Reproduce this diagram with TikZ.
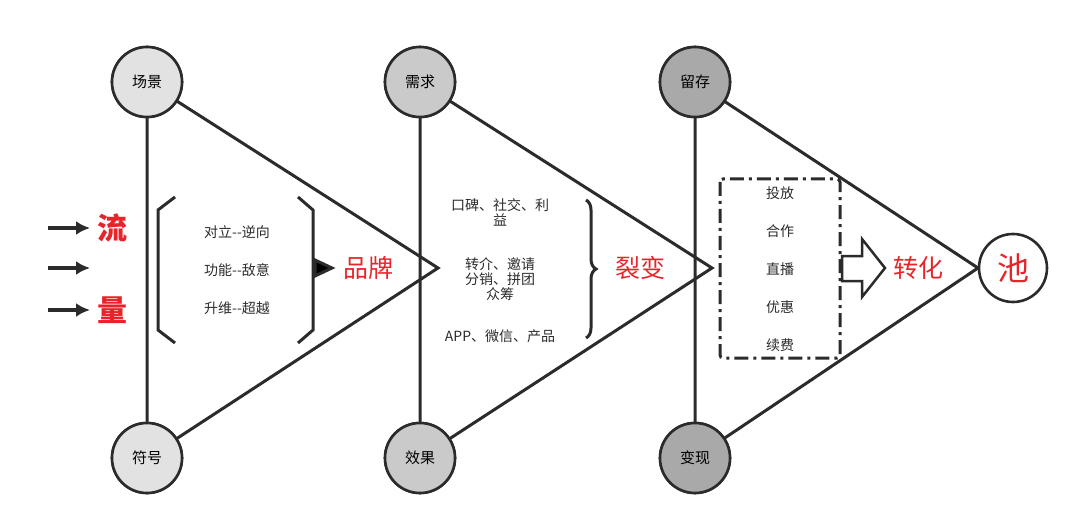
\documentclass[tikz,border=0pt]{standalone}
\usepackage{fontspec}
\setmainfont{Noto Sans CJK SC}
\usetikzlibrary{decorations.pathreplacing,arrows.meta}
\definecolor{ln}{HTML}{2B2B2B}
\definecolor{rd}{HTML}{E8242B}
\definecolor{ca}{HTML}{E2E2E2}
\definecolor{cb}{HTML}{CACACA}
\definecolor{cc}{HTML}{A9A9A9}
\begin{document}
\begin{tikzpicture}[x=1pt,y=-1pt,
  ln/.style={draw=ln,line width=3pt},
  circ/.style={circle,draw=ln,line width=2.6pt,minimum size=70pt,inner sep=0pt,font=\fontsize{15}{15}\selectfont},
  big/.style={text=rd,font=\fontsize{25}{25}\selectfont},
  sm/.style={font=\fontsize{14}{14}\selectfont,text=ln},
  arr/.style={draw=ln,line width=3.5pt,-{Latex[length=14pt,width=14pt]}}]
\useasboundingbox (0,0) rectangle (1080,524);
% triangles
\foreach \x/\ax/\c/\ta/\tb/\n in {147/438/ca/场景/符号/a,420/712/cb/需求/效果/b,695/978/cc/留存/变现/c}{
  \coordinate (\n apex) at (\ax,268);
  \node[circ,fill=white] (\n top) at (\x,82) {};
  \node[circ,fill=white] (\n bot) at (\x,458) {};
  \draw[ln,line join=miter] (\n top.center) -- (\n apex) -- (\n bot.center) -- cycle;
  \node[circ,fill=\c] at (\x,82) {\ta};
  \node[circ,fill=\c] at (\x,458) {\tb};
}
\node[circ,fill=white,minimum size=68pt] (pool) at (1013,268) {};
\node[text=rd,font=\fontsize{32}{32}\selectfont] at (pool) {池};
% left arrows
\foreach \y/\n in {228/l1,268/l2,310/l3}{
  \coordinate (\n s) at (48,\y); \coordinate (\n e) at (90,\y);
  \draw[arr] (\n s) -- (\n e);}
\node[text=rd,font=\bfseries\fontsize{30}{30}\selectfont] (liu) at (112,228) {流};
\node[text=rd,font=\bfseries\fontsize{30}{30}\selectfont] (liang) at (112,310) {量};
% brackets
\draw[ln] (175,197) -- (158,210) -- (158,330) -- (175,343);
\draw[ln] (298,197) -- (313,210) -- (313,330) -- (298,343);
\node[sm] (t1) at (237,232) {对立{-}{-}逆向};
\node[sm] (t2) at (237,270) {功能{-}{-}敌意};
\node[sm] (t3) at (237,308) {升维{-}{-}超越};
\fill[ln] (315,260) -- (332,268) -- (315,276) -- cycle;
\node[big] (pp) at (368,268) {品牌};
% second
\node[sm,align=center] at (500,212) {口碑、社交、利\\[1pt]益};
\node[sm,align=center] at (500,279) {转介、邀请\\[1pt]分销、拼团\\[1pt]众筹};
\node[sm] at (500,336) {APP、微信、产品};
\draw[ln,decorate,decoration={brace,amplitude=10pt}] (586,200) -- (586,338);
\node[big] (lb) at (640,268) {裂变};
% third
\draw[draw=ln,line width=3pt,dash pattern=on 14pt off 5pt on 3pt off 5pt,rounded corners=3pt] (720,179) rectangle (840,358);
\foreach \y/\t in {193/投放,231/合作,269/直播,307/优惠,345/续费} \node[sm] at (780,\y) {\t};
\draw[draw=ln,line width=2.5pt,fill=white,line join=miter] (842,256) -- (862,256) -- (862,239) -- (885,268) -- (862,297) -- (862,281) -- (842,281) -- cycle;
\node[big] (zh) at (918,268) {转化};
\end{tikzpicture}
\end{document}
